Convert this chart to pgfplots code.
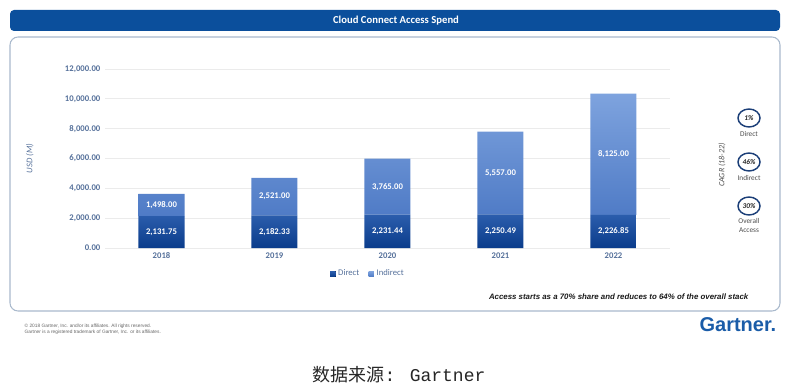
\documentclass[border=0pt]{standalone}
\usepackage{pgfplots}
\pgfplotsset{compat=1.18}
\usepackage{pgfplotstable}
\usepackage{fontspec}
\setmainfont{Carlito}
\newfontfamily\lib{Liberation Sans}
\newfontfamily\mono{Liberation Mono}
\newfontfamily\cjk{Noto Sans CJK SC}
\definecolor{titleblue}{HTML}{0B4F9C}
\definecolor{boxline}{HTML}{A9B9CC}
\definecolor{tickc}{HTML}{55709A}
\definecolor{dirtop}{HTML}{2C5EAD}
\definecolor{dirbot}{HTML}{0A3C8B}
\definecolor{indtop}{HTML}{7EA3DE}
\definecolor{indbot}{HTML}{4F7BC6}
\definecolor{circ}{HTML}{1C3F78}
\definecolor{gblue}{HTML}{1A5CA8}

\pgfplotstableread{
x d i
0 2131.75 1498.00
1 2182.33 2521.00
2 2231.44 3765.00
3 2250.49 5557.00
4 2226.85 8125.00
}\spend

\pgfplotsset{geom/.style={
  at={(78.75pt,-186pt)}, anchor=south west,
  scale only axis, width=423.75pt, height=134.25pt,
  xmin=-0.5, xmax=4.5, ymin=0, ymax=12000}}

\begin{document}
\begin{tikzpicture}
\path[use as bounding box] (0,0) rectangle (600pt,-288.75pt);
\begin{scope}[x=0.75pt,y=-0.75pt]
\fill[titleblue, rounded corners=3pt] (10,10) rectangle (780,31);
\node[white, font=\bfseries\fontsize{8}{9}\selectfont] at (396,20.5) {Cloud Connect Access Spend};
\draw[boxline, line width=0.8pt, rounded corners=6pt] (10,37) rectangle (780,311);
% CAGR
\node[rotate=90, font=\itshape\fontsize{6}{7}\selectfont, text=black!70] at (722,165) {CAGR (18-22)};
\foreach \yy/\vv in {118/1\%,162/46\%,206/30\%}{
  \draw[circ, line width=1.1pt] (749,\yy) ellipse [x radius=11, y radius=9];
  \node[font=\bfseries\itshape\fontsize{5.5}{6}\selectfont, text=black!85] at (749,\yy) {\vv};
}
\node[font=\fontsize{5.5}{6.5}\selectfont, text=black!70] at (749,134) {Direct};
\node[font=\fontsize{5.5}{6.5}\selectfont, text=black!70] at (749,178) {Indirect};
\node[font=\fontsize{5.5}{6.5}\selectfont, text=black!70, align=center] at (749,225.5) {Overall\\Access};
% note
\node[anchor=east, font=\lib\bfseries\itshape\fontsize{5.9}{7}\selectfont, text=black!90] at (753,297) {Access starts as a 70\% share and reduces to 64\% of the overall stack};
% footer
\node[anchor=west, font=\lib\fontsize{3.6}{4.2}\selectfont, text=black!60, align=left] at (20,329.5) {\textcopyright\ 2018 Gartner, Inc. and/or its affiliates. All rights reserved.\\Gartner is a registered trademark of Gartner, Inc. or its affiliates.};
\node[anchor=east, font=\lib\bfseries\fontsize{15}{16}\selectfont, text=gblue] at (781,325) {Gartner.};
\node[font=\fontsize{13.5}{15}\selectfont, text=black!85] at (399,375) {{\cjk 数据来源}{\mono : Gartner}};
\end{scope}
\begin{axis}[geom,
  ybar stacked, bar width=34.5pt,
  xtick=data, xticklabels={2018,2019,2020,2021,2022},
  ytick={0,2000,4000,6000,8000,10000,12000},
  scaled y ticks=false,
  yticklabel style={/pgf/number format/fixed, /pgf/number format/fixed zerofill, /pgf/number format/precision=2, /pgf/number format/1000 sep={,}},
  /pgf/number format/assume math mode=true,
  ymajorgrids, major grid style={color=black!8, line width=0.6pt},
  axis line style={draw=none}, tick style={draw=none},
  ticklabel style={font=\bfseries\fontsize{6.5}{7}\selectfont, text=tickc},
  ylabel={USD (M)},
  ylabel style={at={(axis description cs:-0.133,0.5)}, anchor=center, font=\itshape\fontsize{6.5}{7}\selectfont, text=tickc},
  legend style={at={(axis description cs:0.466,-0.145)}, anchor=center, draw=none, fill=none,
    legend columns=2, font=\fontsize{6.5}{7}\selectfont, text=tickc,
    /tikz/every even column/.append style={column sep=5pt}},
  legend image code/.code={\fill[#1] (0pt,-2pt) rectangle (4pt,2pt);},
]
\addplot[draw=none, top color=dirtop, bottom color=dirbot] table[x=x,y=d]{\spend};
\addplot[draw=none, top color=indtop, bottom color=indbot] table[x=x,y=i]{\spend};
\legend{Direct,Indirect}
\end{axis}
% value labels, centred in each segment
\begin{axis}[geom, hide axis,
  /pgf/number format/assume math mode=true,
  nodes near coords, point meta=explicit,
  every node near coord/.append style={anchor=center, text=white, font=\bfseries\fontsize{6.5}{7}\selectfont,
    /pgf/number format/fixed, /pgf/number format/fixed zerofill, /pgf/number format/precision=2, /pgf/number format/1000 sep={,}},
]
\addplot[only marks, mark=none, nodes near coords align={center}] table[x=x, y expr=\thisrow{d}/2, meta=d]{\spend};
\addplot[only marks, mark=none, nodes near coords align={center}] table[x=x, y expr=\thisrow{d}+\thisrow{i}/2, meta=i]{\spend};
\end{axis}
\end{tikzpicture}
\end{document}
